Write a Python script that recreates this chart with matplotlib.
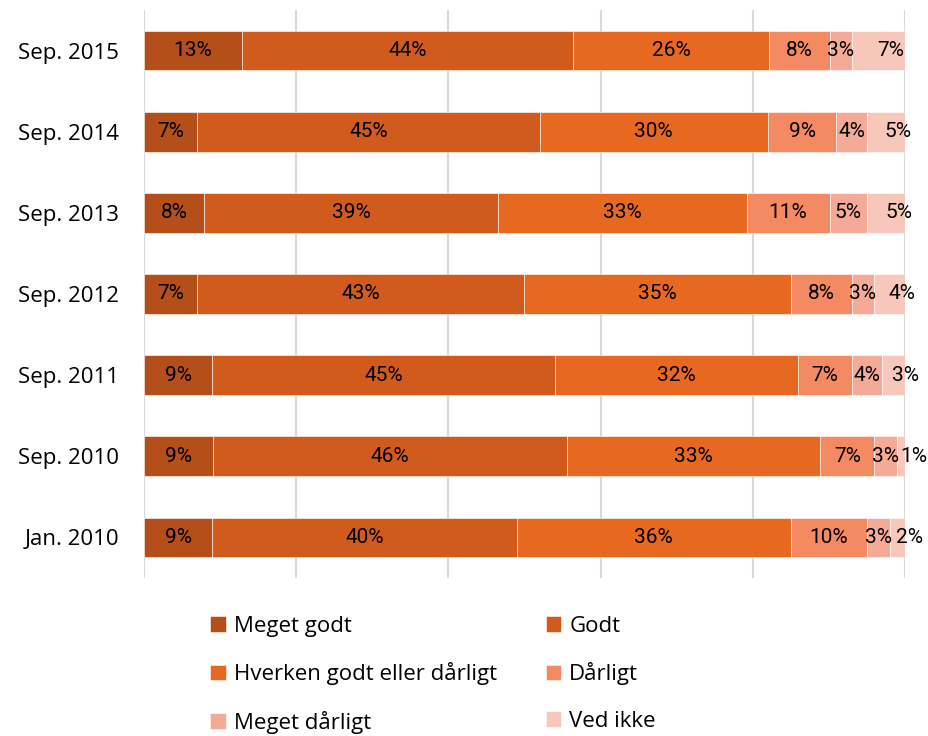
import matplotlib.pyplot as plt
import numpy as np

plt.rcParams['font.family'] = ['Open Sans', 'DejaVu Sans']

periods = ['Sep. 2015', 'Sep. 2014', 'Sep. 2013', 'Sep. 2012',
           'Sep. 2011', 'Sep. 2010', 'Jan. 2010']
answers = ['Meget godt', 'Godt', 'Hverken godt eller dårligt',
           'Dårligt', 'Meget dårligt', 'Ved ikke']
# one list per answer, in the order of periods
meget_godt = [13, 7, 8, 7, 9, 9, 9]
godt = [44, 45, 39, 43, 45, 46, 40]
hverken = [26, 30, 33, 35, 32, 33, 36]
daarligt = [8, 9, 11, 8, 7, 7, 10]
meget_daarligt = [3, 4, 5, 3, 4, 3, 3]
ved_ikke = [7, 5, 5, 4, 3, 1, 2]

colors = ['#b44f19', '#d05b1c', '#e66821', '#f48a62', '#f5aa97', '#f8c7bb']

series = np.array([meget_godt, godt, hverken, daarligt, meget_daarligt, ved_ikke], dtype=float)
shares = series / series.sum(axis=0) * 100  # 100% stacked

fig = plt.figure(figsize=(9.29, 7.36), dpi=100)
ax = fig.add_axes([0.155, 0.2147, 0.819, 0.7717])

y = np.arange(len(periods))
left = np.zeros(len(periods))
for i, name in enumerate(answers):
    ax.barh(y, shares[i], left=left, height=0.49, color=colors[i],
            edgecolor='white', linewidth=0.4, label=name, zorder=3)
    # last series labels are pushed a bit right, like in the original
    dx = 9 if i == len(answers) - 1 else 0
    for j in range(len(periods)):
        ax.annotate('%d%%' % series[i][j], (left[j] + shares[i][j] / 2, y[j]),
                    xytext=(dx, 0), textcoords='offset points',
                    ha='center', va='center', fontsize=15, color='black',
                    zorder=4, family=['Roboto', 'DejaVu Sans'],
                    annotation_clip=False)
    left += shares[i]

ax.set_xlim(0, 100)
ax.set_ylim(len(periods) - 0.5, -0.5)
ax.set_yticks(y)
ax.set_yticklabels(periods, fontsize=16)
ax.set_xticks([0, 20, 40, 60, 80, 100])
ax.tick_params(axis='x', length=0, labelbottom=False)
ax.tick_params(axis='y', length=0, pad=18)
ax.grid(axis='x', color='#d9d9d9', linewidth=1.5, zorder=0)
for s in ax.spines.values():
    s.set_visible(False)

# legend fills row by row: reorder for matplotlib's column filling
handles, labels = ax.get_legend_handles_labels()
order = [0, 2, 4, 1, 3, 5]
fig.legend([handles[k] for k in order], [labels[k] for k in order],
           loc='upper left', bbox_to_anchor=(0.205, 0.1905),
           ncol=2, frameon=False, fontsize=16, handlelength=0.7,
           handleheight=0.7, handletextpad=0.35, columnspacing=2.2,
           labelspacing=1.15)

fig.savefig('out.png', dpi=100)
